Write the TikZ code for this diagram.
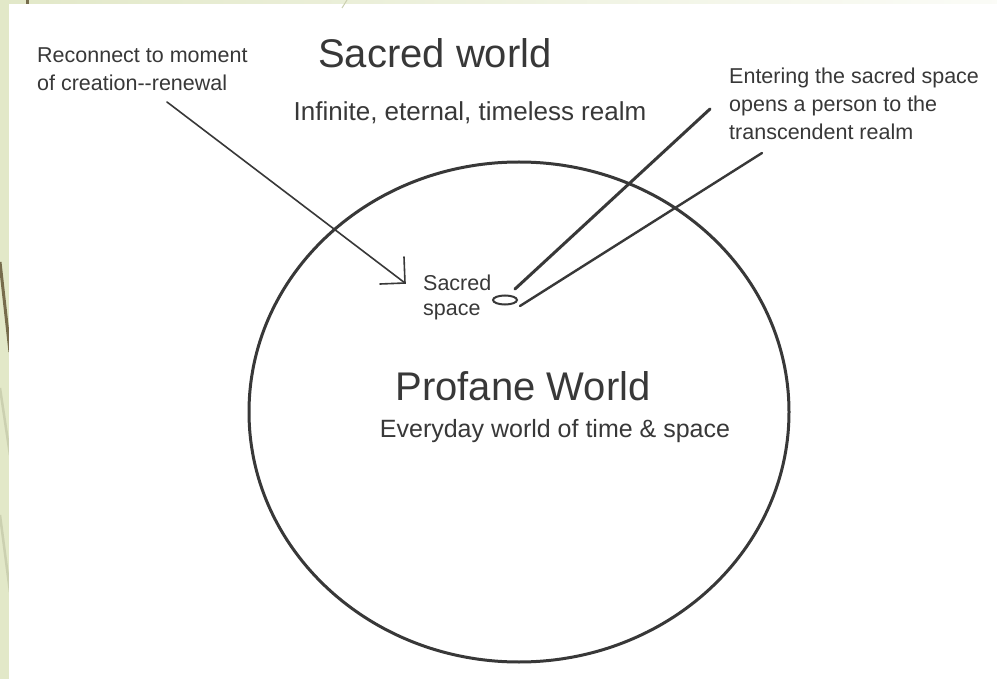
\documentclass[tikz,border=0pt]{standalone}
\usepackage{fontspec}
\setmainfont{Liberation Sans}
\usepackage{xcolor}
\usetikzlibrary{shapes.geometric, positioning, calc}

\definecolor{inkgray}{HTML}{383838}
\definecolor{wispgreen}{HTML}{E2E8C8}
\definecolor{wispbrown}{HTML}{766C4C}
\definecolor{wisplight}{HTML}{CBD0B0}

\begin{document}
\begin{tikzpicture}[
    x=1pt, y=-1pt,
    title/.style={font=\fontsize{40}{44}\selectfont, text=inkgray, inner sep=0pt},
    subtitle/.style={font=\fontsize{26}{30}\selectfont, text=inkgray, inner sep=0pt},
    note/.style={font=\fontsize{21.5}{28}\selectfont, text=inkgray, align=left, inner sep=0pt},
    thinline/.style={draw=inkgray, line width=1.6pt, line cap=round},
    thickline/.style={draw=inkgray, line width=3pt, line cap=round}
]
\useasboundingbox (0,0) rectangle (997,679);

% slide background with the template's wisps
\fill[wispgreen] (0,0) rectangle (997,679);
\shade[left color=wispgreen, right color=wispgreen!15] (0,0) rectangle (997,4);
\draw[wispbrown, line width=3pt] (0,262) -- (10,352);
\draw[wisplight, line width=2.5pt] (0,388) -- (10,455);
\draw[wisplight, line width=2.5pt] (0,515) -- (10,592);
\fill[white] (8.5,4) rectangle (997,679);
\draw[wispbrown, line width=2.5pt] (27.5,0) -- (27.5,4);
\draw[wisplight, line width=1pt] (347,0) -- (342,8);

% the two worlds
\node[ellipse, draw=inkgray, line width=3pt, minimum width=540, minimum height=500, inner sep=0pt] (profane) at (519,412) {};
\node[title, anchor=base] (sacredworld) at (435,68) {Sacred world};
\node[subtitle, anchor=base] (realm) at (470,121) {Infinite, eternal, timeless realm};
\node[title, anchor=base] (profaneworld) at (523,400) {Profane World};
\node[subtitle, font=\fontsize{25}{30}\selectfont, anchor=base] (everyday) at (555,437) {Everyday world of time \& space};

% sacred space
\node[ellipse, draw=inkgray, line width=2pt, minimum width=24, minimum height=9, inner sep=0pt] (marker) at (505,300) {};
\node[note, font=\fontsize{21.5}{24.5}\selectfont, anchor=north west] (sacredspace) at (423,275) {Sacred\\space};

% notes
\node[note, anchor=north west] (reconnect) at (37,48) {Reconnect to moment\\of creation-\kern0pt-renewal};
\node[note, anchor=north west] (entering) at (729,68) {Entering the sacred space\\opens a person to the\\transcendent realm};

\coordinate (arrowtail) at (167,102);
\coordinate (arrowtip) at (405,283);
\coordinate (upperfoot) at (515,289);
\coordinate (lowerfoot) at (520,306);
\coordinate (enterA) at (710,109);
\coordinate (enterB) at (762,153);

\draw[thinline] (arrowtail) -- (arrowtip);
\draw[thinline] (arrowtip) ++(-1,-26) -- (arrowtip) -- ++(-25,1);
\draw[thickline] (upperfoot) -- (enterA);
\draw[thickline, line width=2.4pt] (lowerfoot) -- (enterB);

\end{tikzpicture}
\end{document}
